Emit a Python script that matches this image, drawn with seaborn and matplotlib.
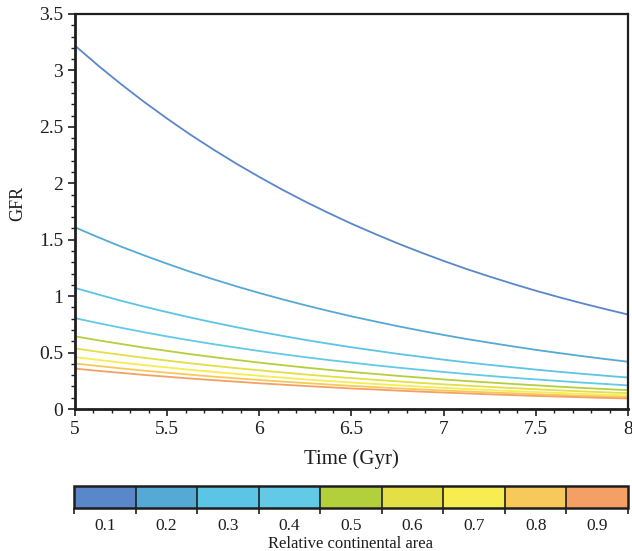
import numpy as np
import pandas as pd
import matplotlib
matplotlib.use("Agg")
import matplotlib.pyplot as plt
import seaborn as sns
from matplotlib.colors import ListedColormap, BoundaryNorm
from matplotlib.cm import ScalarMappable
from matplotlib.ticker import MultipleLocator

# Time axis (Gyr) sampled every 0.125 Gyr
time_gyr = [5.0, 5.125, 5.25, 5.375, 5.5, 5.625, 5.75, 5.875, 6.0, 6.125, 6.25, 6.375,
            6.5, 6.625, 6.75, 6.875, 7.0, 7.125, 7.25, 7.375, 7.5, 7.625, 7.75, 7.875, 8.0]

# Relative continental area for each curve
areas = [0.1, 0.2, 0.3, 0.4, 0.5, 0.6, 0.7, 0.8, 0.9]

# GFR curves, one per continental area
gfr_01 = [3.220, 3.044, 2.878, 2.721, 2.573, 2.432, 2.300, 2.174, 2.056, 1.943, 1.837, 1.737,
          1.642, 1.553, 1.468, 1.388, 1.312, 1.240, 1.173, 1.109, 1.048, 0.991, 0.937, 0.886, 0.837]
gfr_02 = [1.610, 1.522, 1.439, 1.361, 1.287, 1.216, 1.150, 1.087, 1.028, 0.972, 0.919, 0.869,
          0.821, 0.777, 0.734, 0.694, 0.656, 0.620, 0.587, 0.555, 0.524, 0.496, 0.469, 0.443, 0.419]
gfr_03 = [1.073, 1.015, 0.959, 0.907, 0.858, 0.811, 0.767, 0.725, 0.685, 0.648, 0.612, 0.579,
          0.547, 0.518, 0.489, 0.463, 0.437, 0.413, 0.391, 0.370, 0.349, 0.330, 0.312, 0.295, 0.279]
gfr_04 = [0.805, 0.761, 0.720, 0.680, 0.643, 0.608, 0.575, 0.544, 0.514, 0.486, 0.459, 0.434,
          0.411, 0.388, 0.367, 0.347, 0.328, 0.310, 0.293, 0.277, 0.262, 0.248, 0.234, 0.222, 0.209]
gfr_05 = [0.644, 0.609, 0.576, 0.544, 0.515, 0.486, 0.460, 0.435, 0.411, 0.389, 0.367, 0.347,
          0.328, 0.311, 0.294, 0.278, 0.262, 0.248, 0.235, 0.222, 0.210, 0.198, 0.187, 0.177, 0.167]
gfr_06 = [0.537, 0.507, 0.480, 0.454, 0.429, 0.405, 0.383, 0.362, 0.343, 0.324, 0.306, 0.289,
          0.274, 0.259, 0.245, 0.231, 0.219, 0.207, 0.196, 0.185, 0.175, 0.165, 0.156, 0.148, 0.140]
gfr_07 = [0.460, 0.435, 0.411, 0.389, 0.368, 0.347, 0.329, 0.311, 0.294, 0.278, 0.262, 0.248,
          0.235, 0.222, 0.210, 0.198, 0.187, 0.177, 0.168, 0.158, 0.150, 0.142, 0.134, 0.127, 0.120]
gfr_08 = [0.403, 0.381, 0.360, 0.340, 0.322, 0.304, 0.287, 0.272, 0.257, 0.243, 0.230, 0.217,
          0.205, 0.194, 0.183, 0.173, 0.164, 0.155, 0.147, 0.139, 0.131, 0.124, 0.117, 0.111, 0.105]
gfr_09 = [0.358, 0.338, 0.320, 0.302, 0.286, 0.270, 0.256, 0.242, 0.228, 0.216, 0.204, 0.193,
          0.182, 0.173, 0.163, 0.154, 0.146, 0.138, 0.130, 0.123, 0.116, 0.110, 0.104, 0.098, 0.093]
gfr_curves = [gfr_01, gfr_02, gfr_03, gfr_04, gfr_05, gfr_06, gfr_07, gfr_08, gfr_09]

area_colors = ["#5a87c9", "#55a9d5", "#5cc4e4", "#62c9e6", "#b4cf3c",
               "#e3df44", "#f7ec50", "#f7c95a", "#f4a064"]

# Colorbar tick labels
cbar_labels = ["0.1", "0.2", "0.3", "0.4", "0.5", "0.6", "0.7", "0.8", "0.9"]

sns.set_style("white")
plt.rcParams["font.family"] = ["Liberation Serif", "DejaVu Serif"]
text_color = "#1e1e1e"

df = pd.DataFrame(
    [(t, g, a) for a, curve in zip(areas, gfr_curves) for t, g in zip(time_gyr, curve)],
    columns=["Time", "GFR", "Area"],
)

fig = plt.figure(figsize=(6.32, 5.51), dpi=100)
W, H = 632, 551
ax = fig.add_axes([75 / W, (H - 409) / H, (628 - 75) / W, (409 - 14) / H])

sns.lineplot(data=df, x="Time", y="GFR", hue="Area", palette=area_colors,
             hue_order=areas, linewidth=1.3, legend=False, ax=ax)

ax.set_xlim(5, 8)
ax.set_ylim(0, 3.5)
ax.xaxis.set_major_locator(MultipleLocator(0.5))
ax.xaxis.set_minor_locator(MultipleLocator(0.1))
ax.yaxis.set_major_locator(MultipleLocator(0.5))
ax.yaxis.set_minor_locator(MultipleLocator(0.1))
ax.xaxis.set_major_formatter(plt.FuncFormatter(lambda v, p: f"{v:g}"))
ax.yaxis.set_major_formatter(plt.FuncFormatter(lambda v, p: f"{v:g}"))
ax.tick_params(which="major", direction="out", length=5, width=1.2,
               labelsize=14, colors=text_color, bottom=True, left=True)
ax.tick_params(which="minor", direction="out", length=3, width=1.0,
               bottom=True, left=True, colors=text_color)
for side, sp in ax.spines.items():
    sp.set_visible(True)
    sp.set_color(text_color)
    sp.set_linewidth(2.0 if side in ("left", "bottom") else 1.6)

ax.set_xlabel("Time (Gyr)", fontsize=15, color=text_color, labelpad=8)
ax.set_ylabel("GFR", fontsize=13, color=text_color, labelpad=9, y=0.52)

# Discrete colorbar for relative continental area
cax = fig.add_axes([74 / W, (H - 508) / H, (628 - 74) / W, 22 / H])
bounds = np.arange(0.05, 1.0, 0.1)
cmap = ListedColormap(area_colors)
norm = BoundaryNorm(bounds, cmap.N)
cb = fig.colorbar(ScalarMappable(norm=norm, cmap=cmap), cax=cax,
                  orientation="horizontal", drawedges=True)
cb.outline.set_linewidth(1.8)
cb.outline.set_edgecolor(text_color)
cb.dividers.set_color(text_color)
cb.dividers.set_linewidth(1.2)
cb.set_ticks(areas)
cb.set_ticklabels(cbar_labels)
cax.set_xticks(bounds, minor=True)
cax.tick_params(which="major", length=0, labelsize=12.5, colors=text_color, pad=7)
cax.tick_params(which="minor", length=4, width=1.2, colors=text_color, direction="out")
cb.set_label("Relative continental area", fontsize=12, color=text_color, labelpad=2)

fig.savefig("out.png", dpi=100, facecolor="white")
